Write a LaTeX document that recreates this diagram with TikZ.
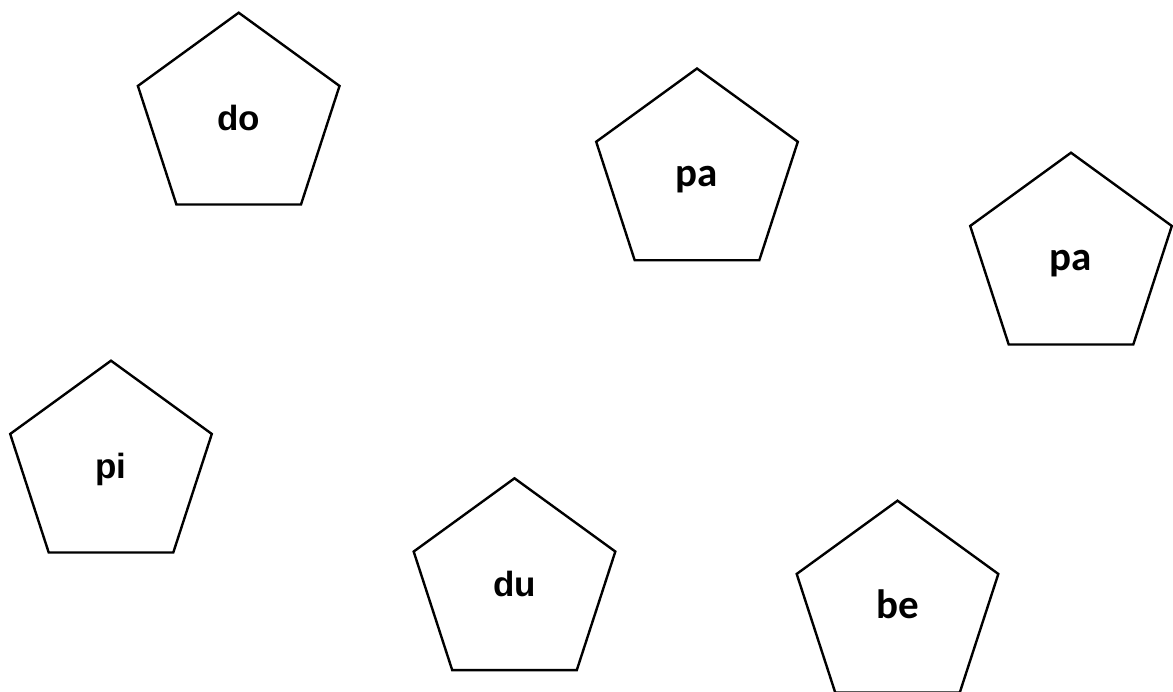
\documentclass[tikz,border=0pt]{standalone}
\usepackage{fontspec}
\setmainfont{Liberation Sans}
\newfontfamily\carlito{Carlito}
\usetikzlibrary{shapes.geometric}

\begin{document}
\begin{tikzpicture}[x=1pt, y=-1pt,
	penta/.style={draw, line width=2.4pt, regular polygon, regular polygon sides=5, minimum size=212pt, inner sep=0pt},
	word/.style={anchor=base, yshift=-12pt, font=\bfseries\fontsize{35}{40}\selectfont},
	cword/.style={word, font=\carlito\bfseries\fontsize{41}{46}\selectfont}]
	\useasboundingbox (0,0) rectangle (1173,691);
	% pentagons
	\node[penta] (do) at (238.7,118.7) {};
	\node[penta] (pa1) at (697,174.5) {};
	\node[penta] (pa2) at (1071,258.7) {};
	\node[penta] (pi) at (111,466.7) {};
	\node[penta] (du) at (514.5,584.3) {};
	\node[penta] (be) at (897.5,606.7) {};
	% syllables
	\node[word] (tdo) at (do.center) {do};
	\node[cword] (tpa1) at (pa1.center) {pa};
	\node[cword] (tpa2) at (pa2.center) {pa};
	\node[word] (tpi) at (pi.center) {pi};
	\node[word] (tdu) at (du.center) {du};
	\node[cword] (tbe) at (be.center) {be};
\end{tikzpicture}
\end{document}
